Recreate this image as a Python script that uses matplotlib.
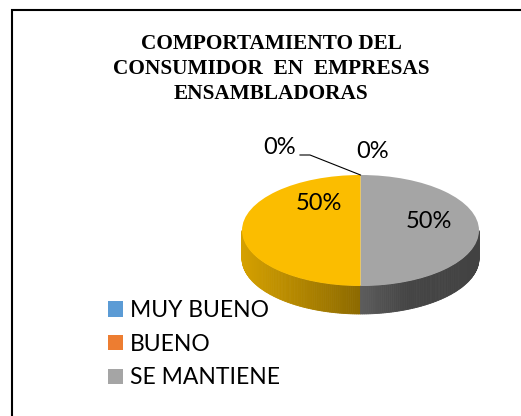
import numpy as np
import matplotlib
matplotlib.use("Agg")
import matplotlib.pyplot as plt
from matplotlib.patches import Rectangle
from matplotlib.colors import to_rgb

# datos del grafico
categories = ["MUY BUENO", "BUENO", "SE MANTIENE", "MALO"]
values = [0, 0, 50, 50]
colors = ["#5B9BD5", "#ED7D31", "#A5A5A5", "#FBBD00"]
title = "COMPORTAMIENTO DEL\nCONSUMIDOR  EN  EMPRESAS\nENSAMBLADORAS"

W, H = 521, 416
fig = plt.figure(figsize=(W / 100, H / 100), dpi=100)

# marco negro (lado derecho e inferior fuera de la imagen)
fig.patches.append(Rectangle((12 / W, -0.1), 1.2, 1 - 10 / H + 0.1,
                             transform=fig.transFigure, fill=False,
                             edgecolor="black", linewidth=1.5))

fig.text(271 / W, 1 - 69 / H, title, ha="center", va="center",
         family="Liberation Serif", fontweight="bold", fontsize=15.3,
         linespacing=1.36)

# pie "3D": elipse centrada en (360.5, 230.5) px, semiejes 118.5 x 55.5
cx, cy, a, b = 360.5, 230.5, 118.5, 55.5
ax = fig.add_axes([(cx - 160) / W, (H - cy - 120) / H, 320 / W, 240 / H])
wedges, _ = ax.pie(values, colors=colors, startangle=90, counterclock=False,
                   radius=1, wedgeprops=dict(linewidth=0))
ax.set_aspect("auto")
ax.set_xlim(-160 / a, 160 / a)
ax.set_ylim(-120 / b, 120 / b)
ax.axis("off")

depth = 28 / b
cum = np.cumsum([0] + values) / float(sum(values))
ts = np.radians(np.linspace(180, 360, 181))
for t0, t1 in zip(ts[:-1], ts[1:]):
    tm = np.degrees((t0 + t1) / 2)
    frac = ((90 - tm) % 360) / 360
    i = min(np.searchsorted(cum, frac, side="right") - 1, len(values) - 1)
    x0, x1 = np.cos(t0), np.cos(t1)
    y0, y1 = np.sin(t0), np.sin(t1)
    xm = (x0 + x1) / 2
    shade = np.interp(xm, [-1, 0, 0.4, 1], [0.85, 0.56, 0.42, 0.40])
    col = tuple(c * shade for c in to_rgb(colors[i]))
    ax.fill([x0, x1, x1, x0], [y0, y1, y1 - depth, y0 - depth],
            color=col, linewidth=0.6, edgecolor=col, zorder=0)

# etiquetas de datos
total = float(sum(values))
pct = ["%d%%" % round(v / total * 100) for v in values]
lab_font = dict(family="Lato", fontsize=17, color="black")


def to_data(px, py):
    return (px - cx) / a, (cy - py) / b


ax.text(*to_data(296, 147), pct[0], ha="right", va="center", **lab_font)
ax.plot(*zip(to_data(300, 155), to_data(310, 155), to_data(cx, 175)),
        color="black", linewidth=0.8)
ax.text(*to_data(373, 151), pct[1], ha="center", va="center", **lab_font)
ax.text(*to_data(429, 221), pct[2], ha="center", va="center", **lab_font)
ax.text(*to_data(319, 204), pct[3], ha="center", va="center", **lab_font)

fig.legend(wedges[:3], categories[:3], loc="upper left",
           bbox_to_anchor=(108 / W, 1 - 300 / H), frameon=False,
           prop=dict(family="Lato", size=16.5), handlelength=0.65,
           handleheight=0.65, handletextpad=0.3, labelspacing=0.55,
           borderaxespad=0, borderpad=0)

fig.savefig("out.png", dpi=100)
